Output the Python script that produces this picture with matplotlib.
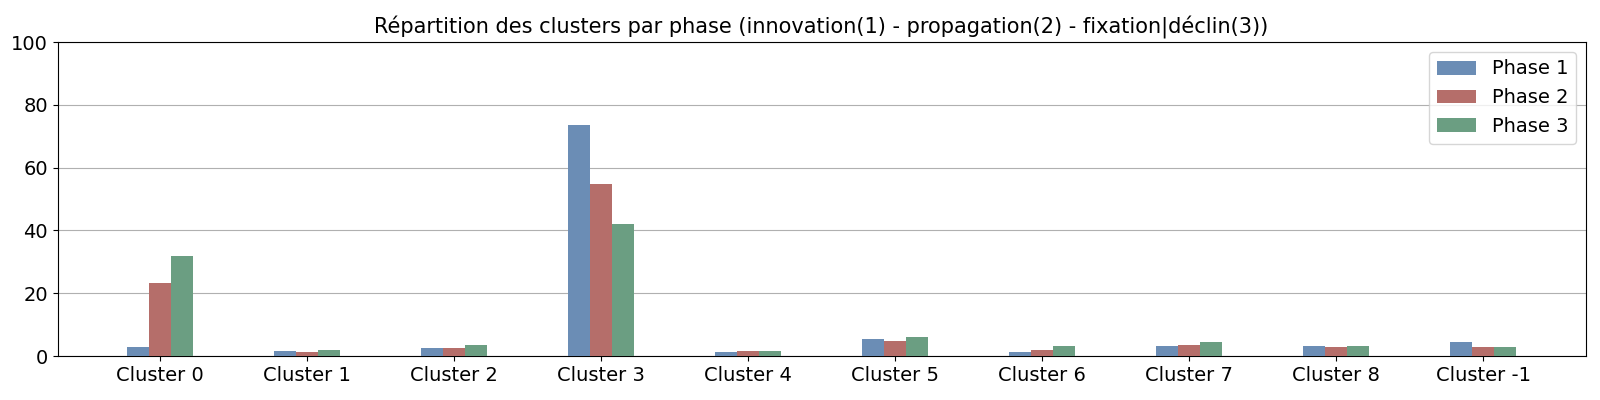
import numpy as np
import matplotlib
matplotlib.use('Agg')
import matplotlib.pyplot as plt

clusters = ["Cluster 0", "Cluster 1", "Cluster 2", "Cluster 3", "Cluster 4",
            "Cluster 5", "Cluster 6", "Cluster 7", "Cluster 8", "Cluster -1"]
phase1 = [2.9, 1.7, 2.7, 73.7, 1.3, 5.5, 1.4, 3.3, 3.3, 4.3]
phase2 = [23.1, 1.4, 2.7, 54.9, 1.7, 4.9, 2.0, 3.6, 3.0, 3.0]
phase3 = [31.7, 1.9, 3.6, 41.9, 1.7, 6.2, 3.3, 4.6, 3.3, 3.0]
series = {"Phase 1": phase1, "Phase 2": phase2, "Phase 3": phase3}
colors = ["#6b8db5", "#b56e6a", "#6b9e82"]

fig, ax = plt.subplots(figsize=(16, 4), dpi=100)
fig.subplots_adjust(left=0.036, right=0.991, top=0.895, bottom=0.11)

x = np.arange(len(clusters))
width = 0.15
for i, (name, vals) in enumerate(series.items()):
    ax.bar(x + (i - 1) * width, vals, width, color=colors[i], label=name, zorder=3)

ax.set_xticks(x)
ax.set_xticklabels(clusters, fontsize=14)
ax.tick_params(axis='y', labelsize=14)
ax.set_ylim(0, 100)
ax.yaxis.grid(True, color='#b0b0b0', zorder=0)
ax.set_axisbelow(True)
ax.set_title("Répartition des clusters par phase (innovation(1) - propagation(2) - fixation|déclin(3))",
             fontsize=15)
ax.legend(loc='upper right', fontsize=14)

plt.savefig("out.png", dpi=100)
